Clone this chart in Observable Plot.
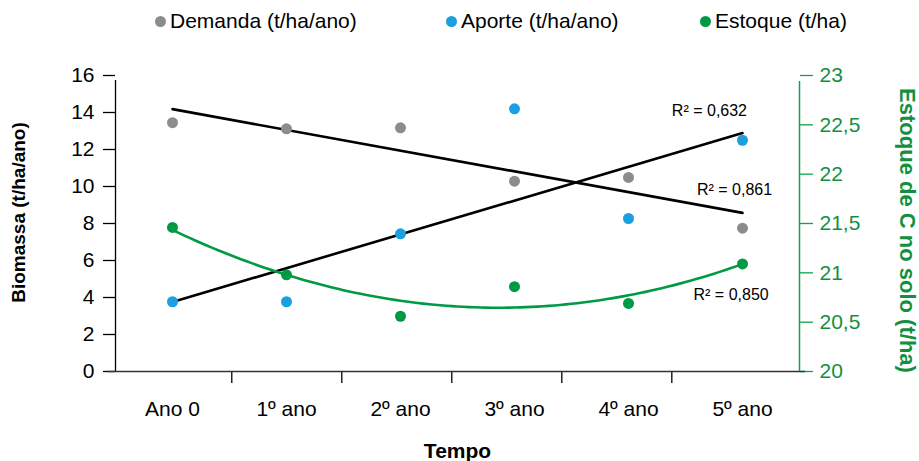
<!DOCTYPE html>
<html><head><meta charset="utf-8">
<script src="https://cdn.jsdelivr.net/npm/d3@7"></script>
<script src="https://cdn.jsdelivr.net/npm/@observablehq/plot@0.6"></script>
<style>
body{margin:0;background:#fff;font-family:"Liberation Sans",Arial,sans-serif;}
#wrap{position:relative;width:919px;height:461px;overflow:hidden;}
#legend{position:relative;height:40px;width:919px;font-size:21px;color:#000;}
.item{position:absolute;top:9px;display:flex;align-items:center;white-space:nowrap;line-height:24px;}
.dot{width:11px;height:11px;border-radius:50%;margin-right:4px;}
</style></head><body>
<div id="wrap"><div id="legend"></div><div id="chart"></div></div>
<script>
// ---- data ----
const categories = ["Ano 0", "1º ano", "2º ano", "3º ano", "4º ano", "5º ano"];
const demanda = [13.45, 13.12, 13.17, 10.29, 10.49, 7.75];   // t/ha/ano
const aporte  = [3.77, 3.77, 7.44, 14.2, 8.27, 12.5];         // t/ha/ano
const estoque = [21.46, 20.98, 20.56, 20.86, 20.69, 21.09];   // t/ha (right axis)
const leftTicks = [0, 2, 4, 6, 8, 10, 12, 14, 16];
const rightTicks = [20, 20.5, 21, 21.5, 22, 22.5, 23];
const xTickMarks = [0.52, 1.485, 2.45, 3.415, 4.38];         // category separators as drawn
const seriesNames = ["Demanda (t/ha/ano)", "Aporte (t/ha/ano)", "Estoque (t/ha)"];
const seriesColors = ["#8c8c8c", "#1a9fe0", "#009a44"];
const r2Text = ["R² = 0,632", "R² = 0,861", "R² = 0,850"];
const r2X = [4.71, 4.93, 4.90];      // data units (category index)
const r2Y = [14.07, 9.84, 4.16];     // left-axis units
const rightDomain = [20, 23];
const leftDomain = [0, 16];

const green = "#12a34a";
const greenText = "#13903f";

// map right-axis values into left-axis units
const toLeft = v => (v - rightDomain[0]) * (leftDomain[1] - leftDomain[0]) / (rightDomain[1] - rightDomain[0]);
const fromLeft = d => rightDomain[0] + d * (rightDomain[1] - rightDomain[0]) / (leftDomain[1] - leftDomain[0]);
const fmtComma = v => String(Math.round(v * 10) / 10).replace(".", ",");

const idx = categories.map((_, i) => i);
const dem = idx.map(i => ({x: i, y: demanda[i]}));
const apo = idx.map(i => ({x: i, y: aporte[i]}));
const est = idx.map(i => ({x: i, y: toLeft(estoque[i]), v: estoque[i]}));

// quadratic least-squares fit for estoque
function quadFit(xs, ys) {
  let S = [0,0,0,0,0], T = [0,0,0];
  xs.forEach((x, i) => {
    for (let k = 0; k < 5; k++) S[k] += Math.pow(x, k);
    for (let k = 0; k < 3; k++) T[k] += ys[i] * Math.pow(x, k);
  });
  const A = [[S[0],S[1],S[2],T[0]],[S[1],S[2],S[3],T[1]],[S[2],S[3],S[4],T[2]]];
  for (let c = 0; c < 3; c++) {
    for (let r = c + 1; r < 3; r++) {
      const f = A[r][c] / A[c][c];
      for (let k = c; k < 4; k++) A[r][k] -= f * A[c][k];
    }
  }
  const b = [0,0,0];
  for (let r = 2; r >= 0; r--) {
    let s = A[r][3];
    for (let k = r + 1; k < 3; k++) s -= A[r][k] * b[k];
    b[r] = s / A[r][r];
  }
  return x => b[0] + b[1] * x + b[2] * x * x;
}
const qf = quadFit(idx, estoque);
const curve = d3.range(0, 5.0001, 0.05).map(x => ({x, y: toLeft(qf(x))}));

// legend
const legendPos = [155, 446, 700];
const legend = document.getElementById("legend");
seriesNames.forEach((name, i) => {
  const it = document.createElement("div");
  it.className = "item";
  it.style.left = legendPos[i] + "px";
  it.innerHTML = `<span class="dot" style="background:${seriesColors[i]}"></span><span>${name}</span>`;
  legend.appendChild(it);
});

const labels = idx.slice(0, 3).map(i => ({x: r2X[i], y: r2Y[i], t: r2Text[i]}));

const plot = Plot.plot({
  width: 919,
  height: 421,
  marginLeft: 115,
  marginRight: 120,
  marginTop: 35,
  marginBottom: 90,
  style: {fontFamily: '"Liberation Sans", Arial, sans-serif', fontSize: "21px", color: "#000", background: "#fff", overflow: "visible"},
  x: {domain: [-0.5, 5.5], axis: null},
  y: {domain: leftDomain, axis: null},
  marks: [
    // axes
    Plot.axisY({ticks: leftTicks, label: null, tickSize: 12, tickPadding: 9, tickFormat: d => String(d), fontSize: 21, strokeWidth: 1.3}),
    Plot.axisY({anchor: "right", label: null, ticks: rightTicks.map(toLeft), tickFormat: d => fmtComma(fromLeft(d)), tickSize: 13, tickPadding: 7, color: greenText, stroke: green, fontSize: 21, strokeWidth: 1.3}),
    Plot.axisX({ticks: xTickMarks, label: null, tickSize: 12, tickFormat: () => "", strokeWidth: 1.3}),
    Plot.axisX({ticks: idx, label: null, tickSize: 0, tickPadding: 30, tickFormat: i => categories[i], fontSize: 21}),
    Plot.ruleX([-0.5], {y1: 0, y2: 16, insetBottom: -5, stroke: "#000", strokeWidth: 1.3}),
    Plot.ruleY([0], {insetLeft: -8, insetRight: -6, stroke: "#333", strokeWidth: 1.3}),
    Plot.ruleX([5.5], {y1: 0, y2: 16, insetBottom: -6, stroke: green, strokeWidth: 1.5}),
    // axis titles
    Plot.text(["Biomassa (t/ha/ano)"], {frameAnchor: "left", textAnchor: "middle", dx: -97, dy: -11, rotate: -90, fontWeight: "bold", fontSize: 19, fill: "#000"}),
    Plot.text(["Estoque de C no solo (t/ha)"], {frameAnchor: "right", textAnchor: "middle", dx: 108, dy: 7, rotate: 90, fontWeight: "bold", fontSize: 22, fill: greenText}),
    Plot.text(["Tempo"], {frameAnchor: "bottom", dy: 86, fontWeight: "bold", fontSize: 21, fill: "#000"}),
    // trend lines
    Plot.linearRegressionY(dem, {x: "x", y: "y", stroke: "#000", strokeWidth: 2.6, ci: 0}),
    Plot.linearRegressionY(apo, {x: "x", y: "y", stroke: "#000", strokeWidth: 2.6, ci: 0}),
    Plot.line(curve, {x: "x", y: "y", stroke: "#009a44", strokeWidth: 2.6, curve: "natural"}),
    // points
    Plot.dot(dem, {x: "x", y: "y", r: 5.5, fill: seriesColors[0]}),
    Plot.dot(apo, {x: "x", y: "y", r: 5.5, fill: seriesColors[1]}),
    Plot.dot(est, {x: "x", y: "y", r: 5.5, fill: seriesColors[2]}),
    // R² labels
    Plot.text(labels, {x: "x", y: "y", text: "t", fontSize: 16, fill: "#000"})
  ]
});
document.getElementById("chart").appendChild(plot);
</script>
</body></html>
